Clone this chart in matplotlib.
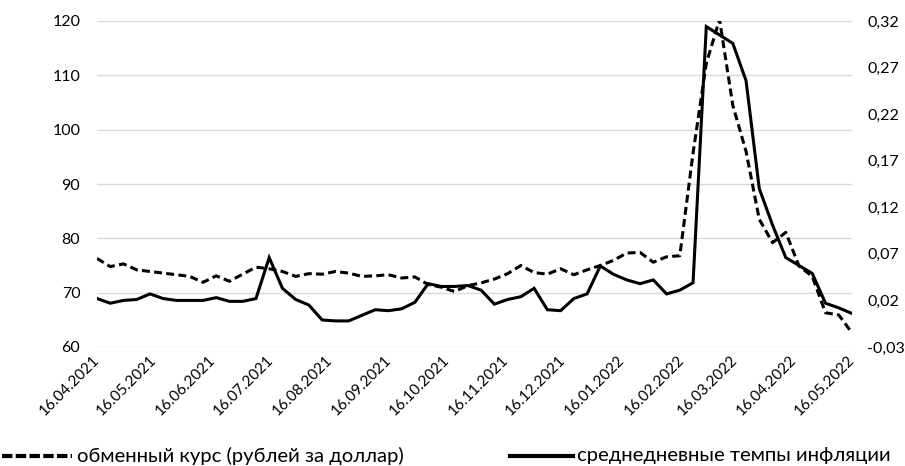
import matplotlib
matplotlib.use("Agg")
import matplotlib.pyplot as plt
from matplotlib.lines import Line2D
import pandas as pd

plt.rcParams['font.family'] = ['Lato', 'Open Sans', 'DejaVu Sans']

start_date = "2021-04-16"
end_date = "2022-05-16"
n_points = 58

exchange_rate = [76.3, 74.8, 75.3, 74.2, 73.9, 73.6, 73.3, 73.0, 71.9, 73.1,
                 72.1, 73.4, 74.7, 74.4, 73.9, 73.0, 73.5, 73.4, 73.9, 73.6,
                 73.0, 73.1, 73.3, 72.7, 72.9, 71.5, 71.0, 70.2, 71.3, 71.8,
                 72.5, 73.5, 75.0, 73.7, 73.4, 74.4, 73.3, 74.2, 75.0, 75.95,
                 77.3, 77.4, 75.6, 76.6, 76.8, 95.7, 112.2, 120.3, 104.5, 96.0,
                 83.5, 79.2, 81.1, 74.9, 73.0, 66.3, 65.9, 62.6]

inflation = [0.022, 0.017, 0.020, 0.021, 0.027, 0.022, 0.020, 0.020, 0.020, 0.023,
             0.019, 0.019, 0.022, 0.066, 0.033, 0.021, 0.015, -0.001, -0.002, -0.002,
             0.004, 0.010, 0.009, 0.011, 0.018, 0.038, 0.035, 0.035, 0.036, 0.031,
             0.016, 0.021, 0.024, 0.033, 0.010, 0.009, 0.022, 0.027, 0.057, 0.048,
             0.042, 0.038, 0.042, 0.027, 0.031, 0.039, 0.314, 0.305, 0.296, 0.256,
             0.140, 0.101, 0.066, 0.0575, 0.049, 0.017, 0.012, 0.006]

left_ticks = [60, 70, 80, 90, 100, 110, 120]
right_ticks = [-0.03, 0.02, 0.07, 0.12, 0.17, 0.22, 0.27, 0.32]
tick_dates = ["2021-04-16", "2021-05-16", "2021-06-16", "2021-07-16", "2021-08-16",
              "2021-09-16", "2021-10-16", "2021-11-16", "2021-12-16", "2022-01-16",
              "2022-02-16", "2022-03-16", "2022-04-16", "2022-05-16"]

label_fx = "обменный курс (рублей за доллар)"
label_inf = "среднедневные темпы инфляции"

dates = pd.date_range(start_date, end_date, periods=n_points)

fig = plt.figure(figsize=(9.05, 4.66), dpi=100)
ax = fig.add_axes([97/905, 1-347/466, (852-97)/905, (347-21)/466])
ax2 = ax.twinx()

ax.plot(dates, exchange_rate, color='black', lw=2.2, linestyle=(0, (2.6, 1.4)),
        dash_capstyle='butt', zorder=3)
ax2.plot(dates, inflation, color='black', lw=2.2, solid_joinstyle='miter', zorder=3)

ax.set_ylim(60, 120)
ax2.set_ylim(-0.03, 0.32)
ax.set_yticks(left_ticks)
ax2.set_yticks(right_ticks)
ax2.set_yticklabels([f"{v:.2f}".replace('.', ',') for v in right_ticks])
ax.set_xlim(pd.Timestamp(start_date), pd.Timestamp(end_date))
td = pd.to_datetime(tick_dates)
ax.set_xticks(td)
ax.set_xticklabels([d.strftime("%d.%m.%Y") for d in td], rotation=45,
                   ha='right', va='center', rotation_mode='anchor')

ax.grid(axis='y', color='#d9d9d9', lw=1.0)
ax.set_axisbelow(True)
for a in (ax, ax2):
    for s in a.spines.values():
        s.set_visible(False)
    a.tick_params(length=0, colors='#000000')
ax.tick_params(axis='y', pad=12, labelsize=11.5)
ax2.tick_params(axis='y', pad=11, labelsize=11.5)
ax.tick_params(axis='x', pad=8, labelsize=11)

# legend
ly = 1 - 456/466
fig.add_artist(Line2D([2/905, 72/905], [ly, ly], color='black', lw=3.0,
                      linestyle=(0, (2.5, 0.8)), dash_capstyle='butt'))
fig.text(77/905, ly, label_fx, fontsize=14.6, va='center', ha='left')
fig.add_artist(Line2D([510/905, 573/905], [ly, ly], color='black', lw=3.0))
fig.text(577/905, ly, label_inf, fontsize=14.6, va='center', ha='left')

fig.savefig("out.png", dpi=100)
